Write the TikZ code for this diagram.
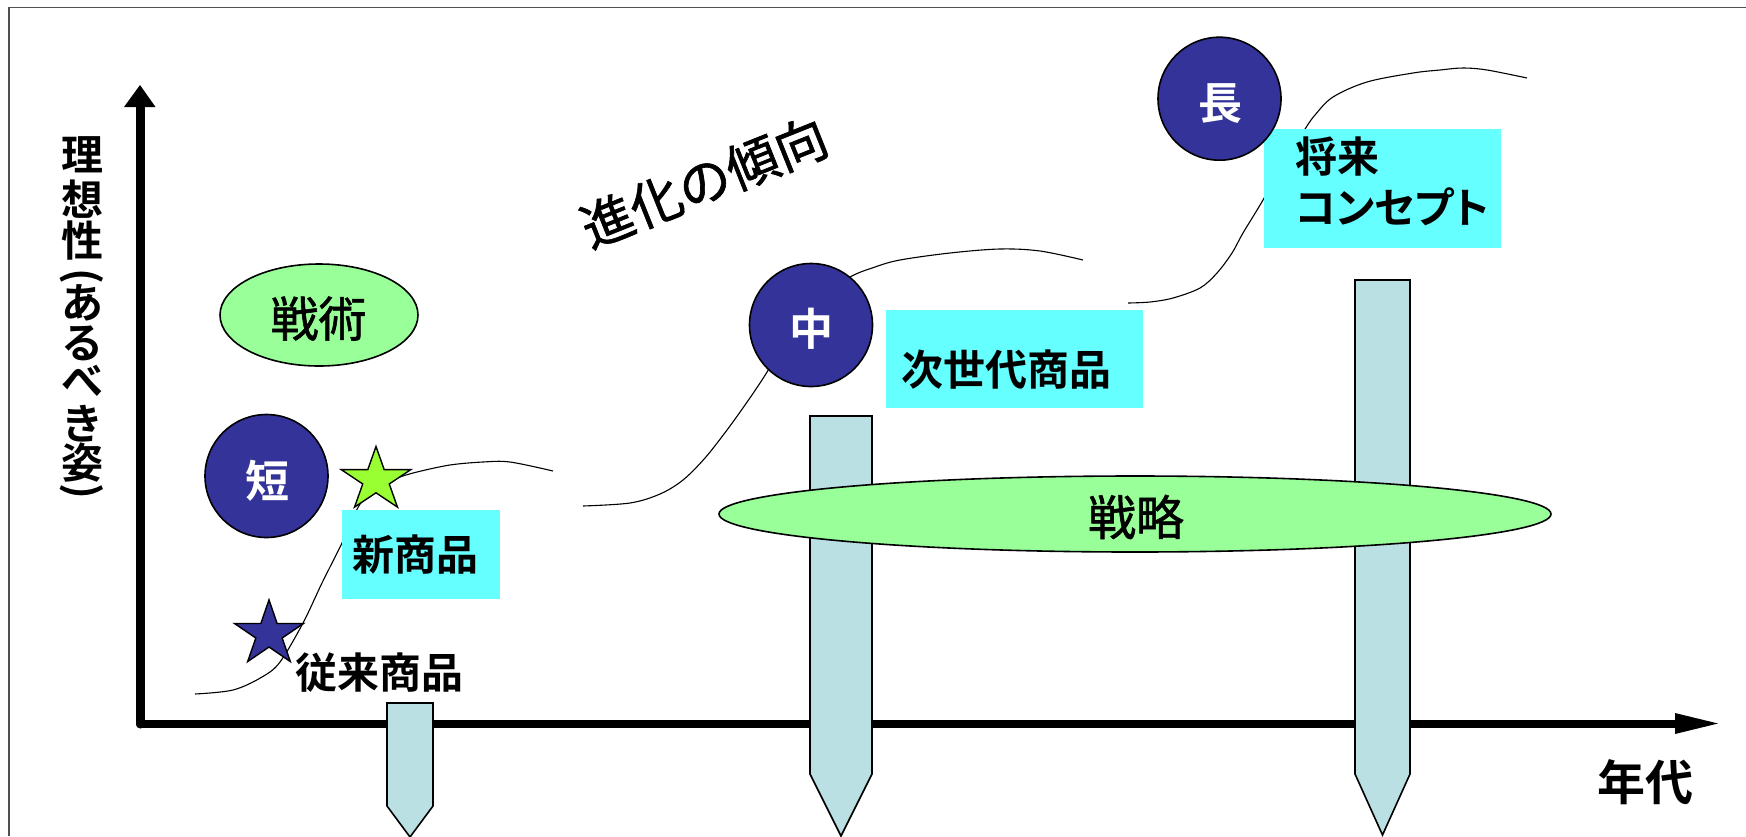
\documentclass[tikz,border=0pt]{standalone}
\usepackage{fontspec}
\setmainfont{Noto Sans CJK JP}[BoldFont={Noto Sans CJK JP Bold}]
\newfontfamily\jpmed{Noto Sans CJK JP}[FakeBold=1.2]
\usetikzlibrary{shapes.geometric}
\definecolor{navy}{HTML}{333399}
\definecolor{lgreen}{HTML}{99FF99}
\definecolor{cyanbox}{HTML}{66FFFF}
\definecolor{pillarc}{HTML}{BBE0E3}
\definecolor{lime}{HTML}{99FF33}
\definecolor{framegray}{HTML}{505050}
\begin{document}
\begin{tikzpicture}[x=1pt,y=-1pt,
  circ/.style={circle, draw=black, line width=1.6pt, fill=navy, minimum size=123pt, inner sep=0pt},
  circtxt/.style={text=white, font=\fontsize{44}{44}\selectfont\bfseries, inner sep=0pt},
  oval/.style={ellipse, draw=black, line width=1.6pt, fill=lgreen, inner sep=0pt},
  ovaltxt/.style={font=\fontsize{48}{48}\selectfont\jpmed, inner sep=0pt},
  cbox/.style={rectangle, fill=cyanbox, inner sep=0pt, anchor=north west},
  lbl/.style={font=\fontsize{42}{50}\selectfont\bfseries, inner sep=0pt},
  ylbl/.style={font=\fontsize{42}{42}\selectfont\bfseries, inner sep=0pt},
  curve/.style={line width=1.1pt, black},
  pil/.style={draw=black, line width=1.6pt, fill=pillarc, line join=miter},
  starst/.style={draw=black, line width=1.4pt}
]
\useasboundingbox (0,0) rectangle (1746,836);
\fill[white] (0,0) rectangle (1746,836);
% frame
\coordinate (fTL) at (9,7.5);
\coordinate (fTR) at (1746,7.5);
\coordinate (fBL) at (9,836);
\draw[framegray, line width=1.5pt] (fBL) -- (fTL) -- (fTR);

% curves
\draw[curve] plot[smooth, tension=0.55] coordinates {(195,694) (233,690) (262,677) (280,662) (303,623) (322,583) (342,543) (352,520) (363,500) (383,485) (397,478) (417,472) (450,465) (483,462) (510,462) (553,471)};
\draw[curve] plot[smooth, tension=0.55] coordinates {(583,506) (630,503) (660,494) (683,480) (705,458) (727,430) (745,405) (762,380) (790,336) (820,298) (850,277) (875,267) (900,260) (950,253) (1000,249) (1040,251) (1083,260)};
\draw[curve] plot[smooth, tension=0.55] coordinates {(1128,303) (1150,302) (1173,298) (1200,288) (1217,273) (1232,253) (1243,233) (1263,200) (1285,160) (1305,129) (1315,115) (1333,97) (1367,82) (1413,73) (1440,70) (1463,68) (1487,70) (1527,78)};

% axes
\coordinate (O) at (140,724);
\coordinate (yend) at (140,107);
\coordinate (xend) at (1676,724);
\draw[line width=9pt, line cap=round] (O) -- (yend);
\draw[line width=8pt, line cap=round] (O) -- (xend);
\fill (124,107) -- (155.5,107) -- (140,85) -- cycle;
\fill (1675,713) -- (1718,723.5) -- (1675,734) -- cycle;

% pillars
\draw[pil] (387,703) -- (433,703) -- (433,806) -- (410,837) -- (387,806) -- cycle;
\draw[pil] (810,416) -- (872,416) -- (872,774) -- (841,836) -- (810,774) -- cycle;
\draw[pil] (1355,280) -- (1410,280) -- (1410,774) -- (1382.5,835) -- (1355,774) -- cycle;

% ellipses
\node[oval, minimum width=832pt, minimum height=76pt] (strat) at (1135,514) {};
\node[ovaltxt] (strattxt) at (1136,517) {戦略};
\node[oval, minimum width=198pt, minimum height=102pt] (tact) at (319,315) {};
\node[ovaltxt] (tacttxt) at (318.5,318.5) {戦術};

% stars
\begin{scope}[shift={(269,634)}, x=1.065pt, y=1pt]
\draw[starst, fill=navy] (90:34.1) -- (126:13) -- (162:34.1) -- (198:13) -- (234:34.1) -- (270:13) -- (306:34.1) -- (342:13) -- (18:34.1) -- (54:13) -- cycle;
\end{scope}
\begin{scope}[shift={(376,480)}, x=1.09pt, y=1pt]
\draw[starst, fill=lime] (90:33.5) -- (126:12.8) -- (162:33.5) -- (198:12.8) -- (234:33.5) -- (270:12.8) -- (306:33.5) -- (342:12.8) -- (18:33.5) -- (54:12.8) -- cycle;
\end{scope}

% cyan boxes
\node[cbox, minimum width=158pt, minimum height=89pt] (bnew) at (342,510) {};
\node[lbl, anchor=west] (tnew) at (352,555) {新商品};
\node[cbox, minimum width=257pt, minimum height=98pt] (bnext) at (886,310) {};
\node[lbl, anchor=west] (tnext) at (901,370) {次世代商品};
\node[cbox, minimum width=237pt, minimum height=119pt] (bfut) at (1264,129) {};
\node[lbl, anchor=west] (tfut1) at (1295,157) {将来};
\node[lbl, anchor=west] (tfut2) at (1295,207) {\addfontfeature{RawFeature=+palt}コンセプト};

% circles
\node[circ] (cs) at (266.5,476) {};
\node[circtxt] (cstxt) at (267,480.5) {短};
\node[circ] (cm) at (811,325) {};
\node[circtxt] (cmtxt) at (811.5,329) {中};
\node[circ] (cl) at (1219.5,98.7) {};
\node[circtxt] (cltxt) at (1220,104) {長};

% texts
\node[lbl] (old) at (379,673) {従来商品};
\node[font=\fontsize{48}{48}\selectfont\bfseries, inner sep=0pt] (era) at (1645,782) {年代};
\node[font=\fontsize{52}{52}\selectfont\jpmed, inner sep=0pt, rotate=21.8] (evo) at (704,182) {進化の傾向};

% vertical y label
\foreach \c/\yy [count=\i] in {理/155, 想/199, 性/240.5, あ/303, る/343.5, べ/380.5, き/424, 姿/462.5} {
  \node[ylbl] (yl\i) at (82,\yy) {\c};
}
\node[ylbl, rotate=-90] (ylpl) at (82,276) {(};
\node[ylbl, rotate=-90] (ylpr) at (82,491) {)};
\end{tikzpicture}
\end{document}
